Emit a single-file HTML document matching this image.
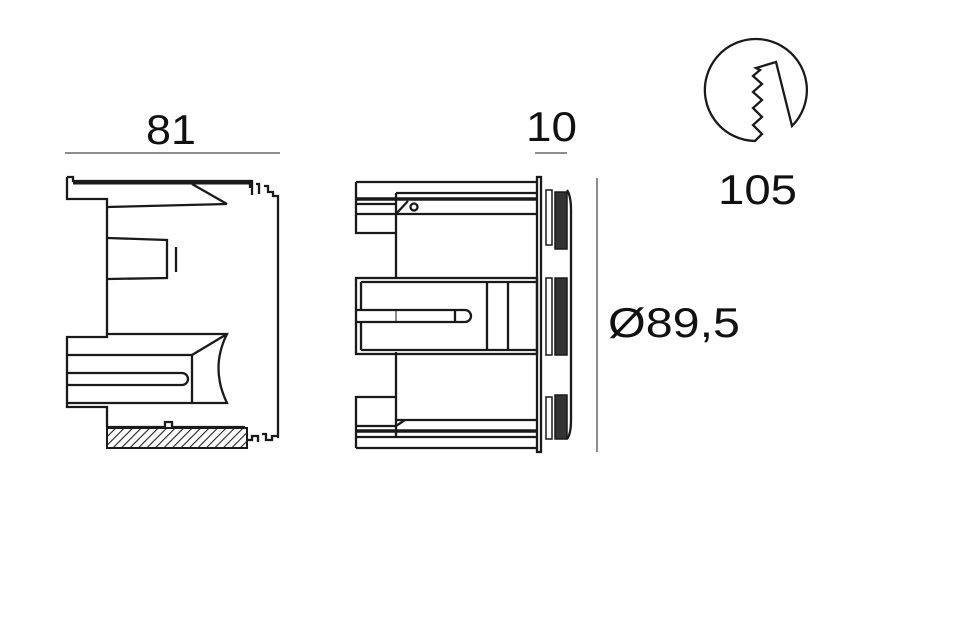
<!DOCTYPE html>
<html><head><meta charset="utf-8"><style>
html,body{margin:0;padding:0;background:#fff;width:978px;height:631px;overflow:hidden}
svg{display:block}
text{font-family:"Liberation Sans",sans-serif;fill:#111}
</style></head><body>
<svg width="978" height="631" viewBox="0 0 978 631" xmlns="http://www.w3.org/2000/svg">
<defs>
<pattern id="h" width="6" height="6" patternUnits="userSpaceOnUse" patternTransform="rotate(45)">
<rect width="6" height="6" fill="#fff"/><line x1="0" y1="0" x2="0" y2="6" stroke="#222" stroke-width="2.2"/>
</pattern>
</defs>
<g fill="none" stroke="#1a1a1a" stroke-width="2.3">
<!-- dimension lines -->
<line x1="65" y1="153" x2="280" y2="153" stroke-width="1"/>
<line x1="535" y1="153" x2="567" y2="153" stroke-width="1"/>
<line x1="597" y1="178" x2="597" y2="452" stroke-width="1"/>

<!-- LEFT VIEW -->
<path d="M67,177 L73,177 L73,181 L250,181 L250,188 M67,177 L67,199 L107,199 L107,337 L67,337 L67,407 L107,407 L107,427"/>
<line x1="73" y1="183" x2="250" y2="183" stroke-width="3"/>
<path d="M250,181 L252,181 L252,195 M256,184 L259,184 L259,194 M264,186 L268,186 L268,192 L273,192 L273,196 L278,196 L278,438"/>
<line x1="107" y1="207" x2="227" y2="204"/>
<line x1="192" y1="184" x2="227" y2="204"/>
<path d="M108,238 L167,240 L167,278 L108,279"/>
<line x1="176" y1="247" x2="176" y2="272"/>
<path d="M107,334 L227,334 Q210,368 227,403 L67,403"/>
<line x1="67" y1="355" x2="192" y2="355"/>
<line x1="192" y1="355" x2="192" y2="403"/>
<line x1="192" y1="355" x2="227" y2="334"/>
<path d="M67,373 L182,373 A6,6 0 0 1 182,385 L67,385"/>
<line x1="107" y1="427" x2="165" y2="427"/>
<path d="M165,427 L165,422 L172,422 L172,427 L245,427"/>
<rect x="107" y="428" width="140" height="20" fill="url(#h)" stroke-width="2"/>
<path d="M247,440 L252,440 L252,436 L258,436 L258,442 M262,434 L266,434 L266,440 L272,440 L272,436 L278,436"/>

<!-- MIDDLE VIEW -->
<rect x="537" y="177" width="4" height="275"/>
<g>
<path d="M356,182 L537,182 M356,182 L356,233 L396,233 M396,193 L537,193 M396,193 L396,278"/>
<line x1="356" y1="199" x2="537" y2="199" stroke-width="3.5"/>
<line x1="356" y1="204" x2="396" y2="204"/>
<line x1="356" y1="214" x2="396" y2="214"/>
<line x1="396" y1="214" x2="537" y2="214"/>
<line x1="396" y1="214" x2="408" y2="201"/>
<circle cx="414" cy="207" r="3.5"/>
</g>
<g transform="translate(0,630) scale(1,-1)">
<path d="M356,182 L537,182 M356,182 L356,233 L396,233 M396,193 L396,278"/>
<line x1="356" y1="193" x2="537" y2="193"/>
<line x1="356" y1="199" x2="537" y2="199" stroke-width="3.5"/>
<line x1="356" y1="204" x2="396" y2="204"/>
<line x1="396" y1="210" x2="537" y2="210"/>
<path d="M396,204 L405,210"/>
</g>
<rect x="356" y="278" width="181" height="76"/>
<path d="M361,282 L537,282 M361,350 L537,350 M361,282 L361,310 M361,322 L361,350"/>
<path d="M356,310 L465,310 A6,6 0 0 1 465,322 L356,322"/>
<line x1="455" y1="310" x2="455" y2="322"/>
<line x1="487" y1="282" x2="487" y2="350"/>
<line x1="508" y1="282" x2="508" y2="350"/>
<line x1="396" y1="310" x2="396" y2="322" stroke-width="1"/>
<g fill="#333" stroke="#1a1a1a" stroke-width="1.5">
<rect x="546" y="190" width="6" height="55" fill="#fff"/>
<rect x="555" y="192" width="12" height="57"/>
<rect x="546" y="278" width="6" height="77" fill="#fff"/>
<rect x="555" y="278" width="12" height="77"/>
<rect x="546" y="397" width="6" height="42" fill="#fff"/>
<rect x="555" y="395" width="12" height="44"/>
</g>
<path d="M567,190 Q571,196 571,210 L571,420 Q571,434 567,439"/>

<!-- CIRCLE ICON -->
<path d="M792,126 A51,51 0 1 0 755,141 L762,134 L753,125 L762,117 L753,108 L762,100 L753,92 L762,84 L753,76 L760,70 L756,68 L776,62 Z"/>
</g>
<text x="146" y="144" font-size="42" textLength="50" lengthAdjust="spacingAndGlyphs">81</text>
<text x="526" y="141" font-size="42" textLength="51" lengthAdjust="spacingAndGlyphs">10</text>
<text x="608" y="337" font-size="42" textLength="132" lengthAdjust="spacingAndGlyphs">Ø89,5</text>
<text x="718" y="204" font-size="42" textLength="79" lengthAdjust="spacingAndGlyphs">105</text>
</svg>
</body></html>
